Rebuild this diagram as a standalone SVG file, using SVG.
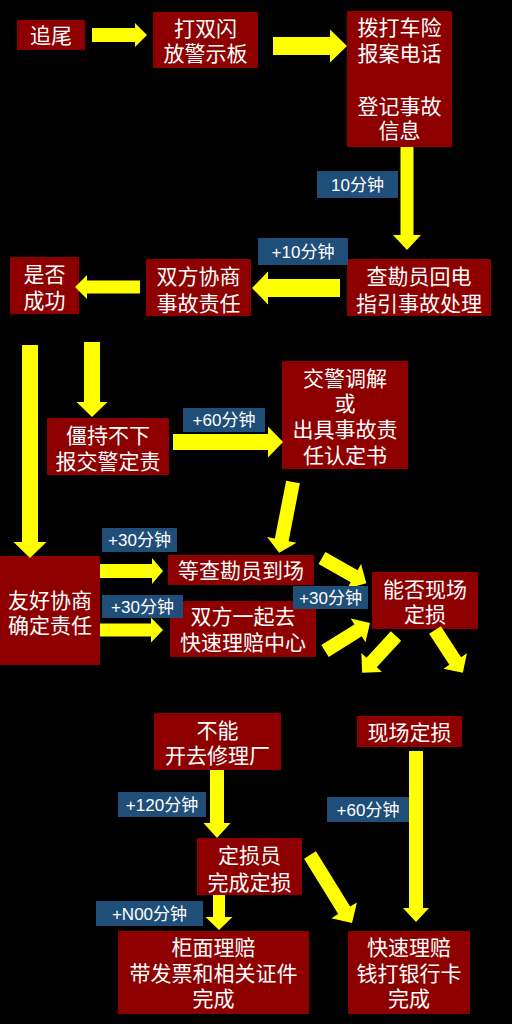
<svg xmlns="http://www.w3.org/2000/svg" width="512" height="1024" viewBox="0 0 512 1024">
<style>
.box{fill:#8e0000}
.t{fill:#ffffff;font-family:"Liberation Sans","Noto Sans CJK SC",sans-serif;font-size:21px;text-anchor:middle}
.lb{fill:#1f4e79}
.lt{fill:#ffffff;font-family:"Liberation Sans","Noto Sans CJK SC",sans-serif;font-size:17px;text-anchor:middle}
.ar{fill:#ffff00}
</style>
<rect width="512" height="1024" fill="#000000"/>
<g id="n1"><rect class="box" x="17" y="20" width="68" height="30"/><text class="t" x="51" y="42.5">追尾</text></g>
<g id="n2"><rect class="box" x="153" y="12" width="105" height="56"/><text class="t" x="205.5" y="35.5">打双闪<tspan x="205.5" dy="25">放警示板</tspan></text></g>
<g id="n3"><rect class="box" x="347" y="11" width="105" height="136"/><text class="t" x="399.5" y="34.5">拨打车险<tspan x="399.5" dy="26">报案电话</tspan><tspan x="399.5" dy="53">登记事故</tspan><tspan x="399.5" dy="24">信息</tspan></text></g>
<g id="n4"><rect class="box" x="347" y="259" width="144" height="57"/><text class="t" x="419" y="283.5">查勘员回电<tspan x="419" dy="27">指引事故处理</tspan></text></g>
<g id="n5"><rect class="box" x="146" y="259" width="105" height="57"/><text class="t" x="198.5" y="283.5">双方协商<tspan x="198.5" dy="27">事故责任</tspan></text></g>
<g id="n6"><rect class="box" x="10" y="257" width="69" height="57"/><text class="t" x="44.5" y="282">是否<tspan x="44.5" dy="25.5">成功</tspan></text></g>
<g id="n7"><rect class="box" x="47" y="418" width="122" height="57"/><text class="t" x="108" y="442.5">僵持不下<tspan x="108" dy="26">报交警定责</tspan></text></g>
<g id="n8"><rect class="box" x="282" y="361" width="126" height="108"/><text class="t" x="345" y="385.5">交警调解<tspan x="345" dy="25">或</tspan><tspan x="345" dy="26">出具事故责</tspan><tspan x="345" dy="26">任认定书</tspan></text></g>
<g id="n9"><rect class="box" x="0" y="556" width="100" height="109"/><text class="t" x="50" y="607.5">友好协商<tspan x="50" dy="25">确定责任</tspan></text></g>
<g id="n10"><rect class="box" x="168" y="555" width="146" height="30"/><text class="t" x="241" y="577.5">等查勘员到场</text></g>
<g id="n11"><rect class="box" x="170" y="601" width="146" height="56"/><text class="t" x="243" y="623.5">双方一起去<tspan x="243" dy="26">快速理赔中心</tspan></text></g>
<g id="n12"><rect class="box" x="372" y="572" width="106" height="57"/><text class="t" x="425" y="596.5">能否现场<tspan x="425" dy="25">定损</tspan></text></g>
<g id="n13"><rect class="box" x="154" y="713" width="127" height="57"/><text class="t" x="217.5" y="737.5">不能<tspan x="217.5" dy="25">开去修理厂</tspan></text></g>
<g id="n14"><rect class="box" x="357" y="716" width="105" height="31"/><text class="t" x="409.5" y="739.5">现场定损</text></g>
<g id="n15"><rect class="box" x="197" y="838" width="105" height="57"/><text class="t" x="249.5" y="862.5">定损员<tspan x="249.5" dy="27">完成定损</tspan></text></g>
<g id="n16"><rect class="box" x="118" y="931" width="191" height="83"/><text class="t" x="213.5" y="954.5">柜面理赔<tspan x="213.5" dy="26">带发票和相关证件</tspan><tspan x="213.5" dy="25">完成</tspan></text></g>
<g id="n17"><rect class="box" x="348" y="931" width="122" height="83"/><text class="t" x="409" y="954.5">快速理赔<tspan x="409" dy="26">钱打银行卡</tspan><tspan x="409" dy="25">完成</tspan></text></g>
<g id="connectors">
<path class="ar" transform="translate(92,35)" d="M0,-7H43V-12L55,0L43,12V7H0Z"/>
<path class="ar" transform="translate(273,46)" d="M0,-9H57V-16.5L74,0L57,16.5V9H0Z"/>
<path class="ar" transform="translate(407,147) rotate(90)" d="M0,-6.5H88V-14L103,0L88,14V6.5H0Z"/>
<path class="ar" transform="translate(340,288) rotate(180)" d="M0,-9H72V-16.5L88,0L72,16.5V9H0Z"/>
<path class="ar" transform="translate(140,287) rotate(180)" d="M0,-6.5H53V-12L65,0L53,12V6.5H0Z"/>
<path class="ar" transform="translate(30,345) rotate(90)" d="M0,-8H197V-16.5L213,0L197,16.5V8H0Z"/>
<path class="ar" transform="translate(92,342) rotate(90)" d="M0,-8H60V-15.5L75,0L60,15.5V8H0Z"/>
<path class="ar" transform="translate(173,442)" d="M0,-8H95V-15.5L110,0L95,15.5V8H0Z"/>
<path class="ar" transform="translate(293,482) rotate(101)" d="M0,-7H59V-15L72,0L59,15V7H0Z"/>
<path class="ar" transform="translate(100,571)" d="M0,-7H52V-13L63,0L52,13V7H0Z"/>
<path class="ar" transform="translate(100,630)" d="M0,-6.5H51V-12.5L63,0L51,12.5V6.5H0Z"/>
<path class="ar" transform="translate(322,558) rotate(29.6)" d="M0,-7H37V-14L51,0L37,14V7H0Z"/>
<path class="ar" transform="translate(325,651) rotate(-31.9)" d="M0,-7H39V-14L53,0L39,14V7H0Z"/>
<path class="ar" transform="translate(396,636) rotate(132.6)" d="M0,-7H36V-14L50,0L36,14V7H0Z"/>
<path class="ar" transform="translate(435,630) rotate(56.9)" d="M0,-7H37V-14L51,0L37,14V7H0Z"/>
<path class="ar" transform="translate(217,770) rotate(90)" d="M0,-7H53V-13.5L68,0L53,13.5V7H0Z"/>
<path class="ar" transform="translate(416,751) rotate(90)" d="M0,-7H157V-13L171,0L157,13V7H0Z"/>
<path class="ar" transform="translate(219,895) rotate(90)" d="M0,-6H22V-13.5L35,0L22,13.5V6H0Z"/>
<path class="ar" transform="translate(310,855) rotate(58.3)" d="M0,-7H65V-15L80,0L65,15V7H0Z"/>
</g>
<g id="labels">
<rect class="lb" x="317" y="171" width="81" height="27"/><text class="lt" x="357.5" y="190.5">10分钟</text>
<rect class="lb" x="258" y="238" width="90" height="27"/><text class="lt" x="303" y="257.5">+10分钟</text>
<rect class="lb" x="183" y="408" width="82" height="24"/><text class="lt" x="224" y="426">+60分钟</text>
<rect class="lb" x="102" y="528" width="75" height="24"/><text class="lt" x="139.5" y="546">+30分钟</text>
<rect class="lb" x="102" y="595" width="81" height="23"/><text class="lt" x="142.5" y="612.5">+30分钟</text>
<rect class="lb" x="293" y="586" width="75" height="23"/><text class="lt" x="330.5" y="603.5">+30分钟</text>
<rect class="lb" x="118" y="792" width="88" height="25"/><text class="lt" x="162" y="810.5">+120分钟</text>
<rect class="lb" x="327" y="797" width="82" height="25"/><text class="lt" x="368" y="815.5">+60分钟</text>
<rect class="lb" x="96" y="901" width="107" height="25"/><text class="lt" x="149.5" y="919.5">+N00分钟</text>
</g>
</svg>
